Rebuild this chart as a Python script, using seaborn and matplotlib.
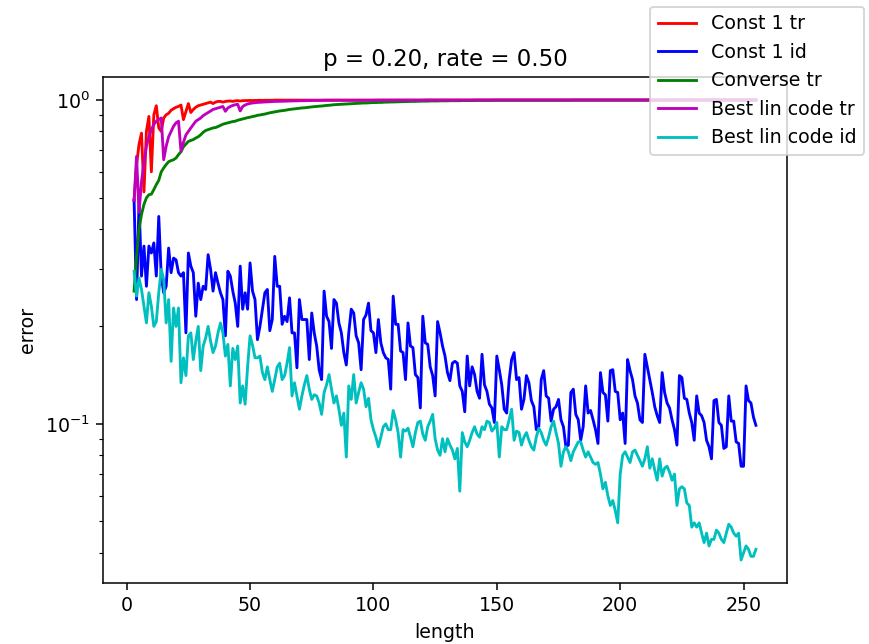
import matplotlib
matplotlib.use('Agg')
import matplotlib.pyplot as plt
import seaborn as sns

# code length on x, one value per length 3..255
lengths = list(range(3, 256))

const1_tr = [
    0.49, 0.63, 0.73, 0.79, 0.52, 0.80, 0.89, 0.60, 0.90, 0.96, 0.82, 0.80, 0.88, 0.90, 0.91, 0.93, 0.94, 0.95,
    0.955, 0.965, 0.87, 0.92, 0.975, 0.915, 0.935, 0.95, 0.96, 0.965, 0.97, 0.975, 0.98, 0.985, 0.975, 0.985, 0.99, 0.99, 0.985, 0.99,
    0.992, 0.993, 0.99, 0.994, 0.995, 0.993, 0.995, 0.996, 0.996, 0.997, 0.996, 0.997, 0.997, 0.998, 0.997, 0.998, 0.998, 0.998, 0.998, 0.999,
    0.999, 0.999, 0.999, 0.999, 0.999, 0.999, 0.999, 0.999, 0.999, 0.999, 0.999, 0.999, 0.999, 0.999, 0.999, 0.999, 0.999, 0.999, 0.999, 0.999,
    0.999, 0.999, 0.999, 0.999, 0.999, 0.999, 0.999, 0.999, 0.999, 0.999, 0.999, 0.999, 0.999, 0.999, 0.999, 0.999, 0.999, 0.999, 0.999, 0.999,
    0.999, 0.999, 0.999, 0.999, 0.999, 0.999, 0.999, 0.999, 0.999, 0.999, 0.999, 0.999, 0.999, 0.999, 0.999, 0.999, 0.999, 0.999, 0.999, 0.999,
    1.0, 1.0, 1.0, 1.0, 1.0, 1.0, 1.0, 1.0, 1.0, 1.0, 1.0, 1.0, 1.0, 1.0, 1.0, 1.0, 1.0, 1.0, 1.0, 1.0,
    1.0, 1.0, 1.0, 1.0, 1.0, 1.0, 1.0, 1.0, 1.0, 1.0, 1.0, 1.0, 1.0, 1.0, 1.0, 1.0, 1.0, 1.0, 1.0, 1.0,
    1.0, 1.0, 1.0, 1.0, 1.0, 1.0, 1.0, 1.0, 1.0, 1.0, 1.0, 1.0, 1.0, 1.0, 1.0, 1.0, 1.0, 1.0, 1.0, 1.0,
    1.0, 1.0, 1.0, 1.0, 1.0, 1.0, 1.0, 1.0, 1.0, 1.0, 1.0, 1.0, 1.0, 1.0, 1.0, 1.0, 1.0, 1.0, 1.0, 1.0,
    1.0, 1.0, 1.0, 1.0, 1.0, 1.0, 1.0, 1.0, 1.0, 1.0, 1.0, 1.0, 1.0, 1.0, 1.0, 1.0, 1.0, 1.0, 1.0, 1.0,
    1.0, 1.0, 1.0, 1.0, 1.0, 1.0, 1.0, 1.0, 1.0, 1.0, 1.0, 1.0, 1.0, 1.0, 1.0, 1.0, 1.0, 1.0, 1.0, 1.0,
    1.0, 1.0, 1.0, 1.0, 1.0, 1.0, 1.0, 1.0, 1.0, 1.0, 1.0, 1.0, 1.0, 1.0, 1.0,
]

const1_id = [
    0.49, 0.242, 0.48, 0.286, 0.354, 0.266, 0.354, 0.337, 0.362, 0.286,
    0.437, 0.286, 0.254, 0.266, 0.349, 0.293, 0.325, 0.321, 0.293, 0.286,
    0.293, 0.191, 0.337, 0.307, 0.293, 0.215, 0.272, 0.242, 0.266, 0.260,
    0.333, 0.300, 0.257, 0.293, 0.272, 0.254, 0.242, 0.187, 0.296, 0.286,
    0.257, 0.236, 0.200, 0.307, 0.226, 0.254, 0.226, 0.314, 0.257, 0.242,
    0.182, 0.200, 0.226, 0.254, 0.260, 0.194, 0.210, 0.329, 0.266, 0.266,
    0.203, 0.215, 0.207, 0.245, 0.191, 0.191, 0.149, 0.242, 0.210, 0.210,
    0.210, 0.158, 0.220, 0.191, 0.174, 0.147, 0.137, 0.257, 0.215, 0.207,
    0.171, 0.242, 0.236, 0.205, 0.191, 0.166, 0.152, 0.191, 0.226, 0.220,
    0.187, 0.178, 0.147, 0.210, 0.217, 0.236, 0.194, 0.191, 0.166,
    0.210, 0.178, 0.166, 0.160, 0.158, 0.128, 0.248, 0.203, 0.203, 0.168,
    0.166, 0.137, 0.205, 0.174, 0.172, 0.142, 0.139, 0.112, 0.215, 0.178,
    0.176, 0.150, 0.141, 0.122, 0.207, 0.191, 0.174, 0.162, 0.144, 0.136,
    0.154, 0.156, 0.154, 0.131, 0.126, 0.109, 0.162, 0.131, 0.150, 0.142,
    0.126, 0.120, 0.164, 0.132, 0.126, 0.115, 0.112, 0.101, 0.162, 0.147,
    0.132, 0.111,
    0.108, 0.137, 0.158, 0.166, 0.137, 0.139, 0.111, 0.119, 0.141, 0.134,
    0.118, 0.113, 0.096, 0.098, 0.137, 0.146, 0.122, 0.120, 0.102, 0.111,
    0.113, 0.119, 0.103, 0.098, 0.085, 0.086, 0.125, 0.128, 0.107, 0.103,
    0.089, 0.098, 0.131, 0.108, 0.110, 0.103, 0.096, 0.087, 0.144, 0.125,
    0.123, 0.102, 0.146, 0.147, 0.126, 0.125, 0.103, 0.108, 0.087, 0.158,
    0.146,
    0.137, 0.122, 0.116, 0.103, 0.101, 0.164, 0.150, 0.137, 0.125, 0.113,
    0.106, 0.101, 0.144, 0.125, 0.116, 0.112, 0.103, 0.096, 0.086, 0.141,
    0.139, 0.120, 0.119, 0.108, 0.101, 0.089, 0.122, 0.108, 0.106, 0.101,
    0.089, 0.085, 0.078, 0.118, 0.119, 0.101, 0.099, 0.084, 0.085, 0.122,
    0.102, 0.102, 0.088, 0.087, 0.074, 0.074, 0.131, 0.118, 0.116, 0.105,
    0.099,
]

converse_tr = [
    0.257, 0.33, 0.40, 0.443, 0.476, 0.499, 0.51, 0.512, 0.529, 0.548,
    0.565, 0.60, 0.617, 0.632, 0.645, 0.65, 0.654, 0.662, 0.678, 0.692,
    0.717, 0.731, 0.745, 0.75, 0.755, 0.763, 0.770, 0.781, 0.795, 0.805,
    0.81, 0.815, 0.82, 0.822, 0.828, 0.835, 0.842, 0.846, 0.850, 0.854,
    0.858, 0.86, 0.866, 0.87, 0.874, 0.878, 0.882, 0.885, 0.889, 0.892,
    0.897, 0.899, 0.902, 0.905, 0.909, 0.913, 0.916, 0.919, 0.922, 0.925,
    0.927, 0.929, 0.932, 0.935, 0.937, 0.939, 0.941, 0.943, 0.945, 0.946,
    0.948, 0.950, 0.952, 0.954, 0.955, 0.957, 0.958, 0.960, 0.962, 0.963,
    0.965, 0.967, 0.968,
    0.969, 0.970, 0.971, 0.972, 0.973, 0.974, 0.975, 0.976, 0.977, 0.978, 0.979, 0.979, 0.980, 0.981, 0.982,
    0.982, 0.983, 0.983, 0.984, 0.985, 0.985, 0.986, 0.986, 0.987, 0.987,
    0.988, 0.988, 0.989, 0.989, 0.990, 0.990, 0.990, 0.991, 0.991, 0.992,
    0.992, 0.992, 0.993, 0.993, 0.993, 0.993, 0.994, 0.994, 0.994, 0.994,
    0.995, 0.995, 0.995, 0.995, 0.995, 0.996, 0.996, 0.996, 0.996, 0.996,
    0.996, 0.997, 0.997, 0.997, 0.997, 0.997, 0.997, 0.997, 0.998, 0.998,
    0.998, 0.998, 0.998, 0.998, 0.998, 0.998, 0.998, 0.998, 0.998, 0.998, 0.998, 0.998, 0.998, 0.998, 0.998, 0.998, 0.998, 0.998, 0.998, 0.998,
    0.998, 0.998, 0.998, 0.998, 0.998, 0.998, 0.998, 0.998, 0.998, 0.998,
    0.999, 0.999, 0.999, 0.999, 0.999, 0.999, 0.999, 0.999, 0.999, 0.999, 0.999, 0.999, 0.999, 0.999, 0.999, 0.999, 0.999, 0.999, 0.999, 0.999,
    0.999, 0.999, 0.999, 0.999, 0.999, 0.999, 0.999, 0.999, 0.999, 0.999, 0.999, 0.999, 0.999, 0.999, 0.999, 0.999, 0.999, 0.999, 0.999, 0.999,
    1.0, 1.0, 1.0, 1.0, 1.0, 1.0, 1.0, 1.0, 1.0, 1.0, 1.0, 1.0, 1.0, 1.0, 1.0, 1.0, 1.0, 1.0, 1.0, 1.0,
    1.0, 1.0, 1.0, 1.0, 1.0, 1.0, 1.0, 1.0, 1.0, 1.0, 1.0, 1.0, 1.0, 1.0, 1.0,
]

best_lin_tr = [
    0.49, 0.67, 0.45, 0.56, 0.64, 0.72, 0.77, 0.81, 0.84, 0.86, 0.87, 0.88, 0.654, 0.72, 0.77, 0.80, 0.83, 0.85, 0.86, 0.696,
    0.74, 0.78, 0.80, 0.82, 0.84, 0.86, 0.87, 0.88, 0.895, 0.905, 0.915, 0.925, 0.935, 0.94, 0.945, 0.95, 0.955, 0.923, 0.945, 0.955,
    0.962, 0.967, 0.97, 0.925, 0.955, 0.965, 0.972, 0.976, 0.979, 0.981, 0.983, 0.984, 0.985, 0.986, 0.987, 0.988, 0.989, 0.99, 0.99, 0.991,
    0.991, 0.992, 0.992, 0.993, 0.993, 0.994, 0.994, 0.995, 0.995, 0.995, 0.996, 0.996, 0.996, 0.997, 0.997, 0.997, 0.997, 0.998,
    0.998, 0.998, 0.998, 0.998, 0.998, 0.998, 0.998, 0.998, 0.998, 0.998, 0.998, 0.998, 0.998, 0.998, 0.998, 0.998, 0.998, 0.998, 0.998, 0.998,
    0.999, 0.999, 0.999, 0.999, 0.999, 0.999, 0.999, 0.999, 0.999, 0.999, 0.999, 0.999, 0.999, 0.999, 0.999, 0.999, 0.999, 0.999, 0.999, 0.999,
    0.999, 0.999, 0.999, 0.999, 0.999, 0.999, 0.999, 0.999, 0.999, 0.999, 0.999, 0.999, 0.999, 0.999, 0.999, 0.999, 0.999, 0.999, 0.999, 0.999,
    1.0, 1.0, 1.0, 1.0, 1.0, 1.0, 1.0, 1.0, 1.0, 1.0, 1.0, 1.0, 1.0, 1.0, 1.0, 1.0, 1.0, 1.0, 1.0, 1.0,
    1.0, 1.0, 1.0, 1.0, 1.0, 1.0, 1.0, 1.0, 1.0, 1.0, 1.0, 1.0, 1.0, 1.0, 1.0, 1.0, 1.0, 1.0, 1.0, 1.0,
    1.0, 1.0, 1.0, 1.0, 1.0, 1.0, 1.0, 1.0, 1.0, 1.0, 1.0, 1.0, 1.0, 1.0, 1.0, 1.0, 1.0, 1.0, 1.0, 1.0,
    1.0, 1.0, 1.0, 1.0, 1.0, 1.0, 1.0, 1.0, 1.0, 1.0, 1.0, 1.0, 1.0, 1.0, 1.0, 1.0, 1.0, 1.0, 1.0, 1.0,
    1.0, 1.0, 1.0, 1.0, 1.0, 1.0, 1.0, 1.0, 1.0, 1.0, 1.0, 1.0, 1.0, 1.0, 1.0, 1.0, 1.0, 1.0, 1.0, 1.0,
    1.0, 1.0, 1.0, 1.0, 1.0, 1.0, 1.0, 1.0, 1.0, 1.0, 1.0, 1.0, 1.0, 1.0, 1.0,
]

best_lin_id = [
    0.296, 0.248, 0.282, 0.260, 0.231, 0.205, 0.254, 0.231, 0.200, 0.207,
    0.254, 0.300, 0.279, 0.205, 0.242, 0.156, 0.228, 0.200, 0.228, 0.134,
    0.160, 0.141, 0.187, 0.191, 0.158, 0.180, 0.200, 0.146, 0.174, 0.184,
    0.200, 0.180, 0.166, 0.174, 0.191, 0.205, 0.191, 0.162, 0.176, 0.131,
    0.171, 0.158, 0.174, 0.116, 0.131, 0.115, 0.150, 0.187, 0.175, 0.160,
    0.160, 0.162, 0.144, 0.137, 0.150, 0.137, 0.126, 0.137, 0.150, 0.154,
    0.137, 0.141, 0.154, 0.172, 0.122, 0.134, 0.122, 0.111, 0.122, 0.132,
    0.141, 0.128, 0.119, 0.123, 0.122, 0.116, 0.107, 0.125, 0.132, 0.142,
    0.128, 0.116, 0.122, 0.111, 0.099, 0.108, 0.079, 0.131, 0.119, 0.142,
    0.116, 0.125, 0.134, 0.128, 0.113, 0.120, 0.103, 0.096, 0.091,
    0.085, 0.091, 0.098, 0.100, 0.096, 0.096, 0.110, 0.103, 0.094, 0.079,
    0.096, 0.095, 0.097, 0.091, 0.085, 0.094, 0.101, 0.102, 0.093, 0.089,
    0.098, 0.102, 0.107, 0.090, 0.083, 0.080, 0.090, 0.082, 0.090, 0.086,
    0.083, 0.078, 0.084, 0.062, 0.094, 0.088, 0.085, 0.089, 0.094, 0.098,
    0.093, 0.091, 0.098, 0.096, 0.102, 0.101, 0.095, 0.097, 0.101, 0.079,
    0.098, 0.096,
    0.096, 0.103, 0.111, 0.089, 0.095, 0.094, 0.086, 0.091, 0.094, 0.089,
    0.085, 0.083, 0.091, 0.097, 0.094, 0.089, 0.086, 0.091, 0.098, 0.102,
    0.094, 0.087, 0.074, 0.082, 0.085, 0.082, 0.077, 0.082, 0.085, 0.088,
    0.088, 0.083, 0.079, 0.082, 0.079, 0.076, 0.075, 0.076, 0.070, 0.063,
    0.066, 0.060, 0.056, 0.058, 0.054, 0.0495, 0.070, 0.080, 0.082, 0.079,
    0.076,
    0.082, 0.083, 0.080, 0.077, 0.074, 0.078, 0.085, 0.073, 0.078, 0.072,
    0.067, 0.078, 0.069, 0.073, 0.074, 0.071, 0.067, 0.070, 0.056, 0.063,
    0.064, 0.063, 0.057, 0.056, 0.048, 0.0495, 0.048, 0.0495, 0.046, 0.043,
    0.046, 0.042, 0.044, 0.044, 0.047, 0.046, 0.044, 0.043, 0.046, 0.049,
    0.048, 0.046, 0.045, 0.046, 0.038, 0.040, 0.042, 0.041, 0.039, 0.039,
    0.041,
]

series = [
    ('Const 1 tr', const1_tr, 'r'),
    ('Const 1 id', const1_id, 'b'),
    ('Converse tr', converse_tr, 'g'),
    ('Best lin code tr', best_lin_tr, 'm'),
    ('Best lin code id', best_lin_id, 'c'),
]

fig = plt.figure(figsize=(869 / 137, 644 / 137), dpi=137)
ax = fig.add_axes([103 / 869, 61 / 644, 684 / 869, 506 / 644])

for name, vals, col in series:
    sns.lineplot(x=lengths, y=vals, color=col, label=name, ax=ax)

ax.set_yscale('log')
ax.set_title('p = 0.20, rate = 0.50')
ax.set_xlabel('length')
ax.set_ylabel('error')
ax.legend(loc='upper right', bbox_to_anchor=(1.127, 1.158))

fig.savefig('out.png', dpi=137)
